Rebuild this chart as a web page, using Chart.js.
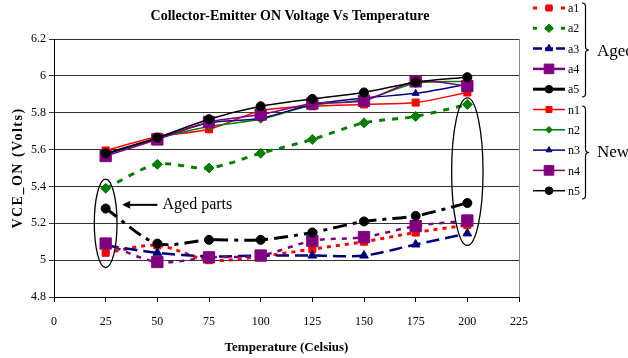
<!DOCTYPE html>
<html><head><meta charset="utf-8">
<script src="https://cdn.jsdelivr.net/npm/chart.js@4/dist/chart.umd.min.js"></script>
<style>html,body{margin:0;padding:0;background:#fff}#wrap{width:628px;height:358px}</style>
</head><body><div id="wrap"><canvas id="c" width="628" height="358"></canvas></div>
<script>
// ---- data ----
const temps = [25, 50, 75, 100, 125, 150, 175, 200];
const xTicks = [0, 25, 50, 75, 100, 125, 150, 175, 200, 225];
const yTicks = [4.8, 5.0, 5.2, 5.4, 5.6, 5.8, 6.0, 6.2];
const seriesNames = ['a1', 'a2', 'a3', 'a4', 'a5', 'n1', 'n2', 'n3', 'n4', 'n5'];
const a1 = [5.04, 5.08, 5.00, 5.02, 5.06, 5.10, 5.15, 5.19];
const a2 = [5.39, 5.52, 5.50, 5.58, 5.655, 5.745, 5.78, 5.845];
const a3 = [5.08, 5.04, 5.02, 5.025, 5.025, 5.025, 5.085, 5.145];
const a4 = [5.09, 4.99, 5.015, 5.025, 5.105, 5.125, 5.185, 5.215];
const a5 = [5.28, 5.09, 5.11, 5.11, 5.15, 5.21, 5.24, 5.31];
const n1 = [5.595, 5.67, 5.71, 5.81, 5.835, 5.845, 5.855, 5.91];
const n2 = [5.575, 5.66, 5.725, 5.765, 5.84, 5.87, 5.96, 5.97];
const n3 = [5.575, 5.66, 5.745, 5.77, 5.845, 5.88, 5.905, 5.955];
const n4 = [5.565, 5.655, 5.75, 5.79, 5.85, 5.865, 5.97, 5.945];
const n5 = [5.58, 5.665, 5.765, 5.835, 5.875, 5.91, 5.965, 5.993];
const groupLabels = ['Aged', 'New'];
const titleText = 'Collector-Emitter ON Voltage Vs Temperature';
const xTitle = 'Temperature (Celsius)';
const yTitle = 'VCE_ON (Volts)';
const calloutText = 'Aged parts';

// ---- styles ----
const values = [a1, a2, a3, a4, a5, n1, n2, n3, n4, n5];
const colors = ['#FF0000', '#008000', '#000080', '#800080', '#000000',
                '#FF0000', '#008000', '#000080', '#800080', '#000000'];
const pStyles = ['rect', 'rectRot', 'triangle', 'rect', 'circle',
                 'rect', 'rectRot', 'triangle', 'rect', 'circle'];
const pRadius = [5, 5, 5, 8, 4.5, 5, 4, 4, 8, 4.5];
const dashes = [[4, 5], [6, 7], [13, 6], [5, 6], [14, 6, 4, 6], [], [], [], [], []];
const legendDashes = [[4, 8], [4, 8], [9, 3], [12, 4], [12, 4], [], [], [], [], []];
const widths = [3, 3, 2.5, 2.5, 3, 1.5, 1.5, 1.5, 1.5, 1.5];
const SERIF = '"Liberation Serif", "Times New Roman", serif';

const datasets = values.map((v, i) => ({
  label: seriesNames[i],
  data: temps.map((t, k) => ({ x: t, y: v[k] })),
  borderColor: colors[i],
  backgroundColor: colors[i],
  pointBackgroundColor: colors[i],
  pointBorderColor: colors[i],
  pointStyle: pStyles[i],
  pointRadius: pRadius[i],
  pointBorderWidth: 1,
  borderWidth: widths[i],
  borderDash: dashes[i],
  tension: 0.3,
  fill: false,
  order: 10 - i
}));

function drawBrace(ctx, x, yTop, yBot, w) {
  const mid = (yTop + yBot) / 2;
  ctx.beginPath();
  ctx.moveTo(x, yTop);
  ctx.quadraticCurveTo(x + w, yTop, x + w, yTop + w);
  ctx.lineTo(x + w, mid - w);
  ctx.quadraticCurveTo(x + w, mid, x + 2 * w, mid);
  ctx.quadraticCurveTo(x + w, mid, x + w, mid + w);
  ctx.lineTo(x + w, yBot - w);
  ctx.quadraticCurveTo(x + w, yBot, x, yBot);
  ctx.stroke();
}

const decor = {
  id: 'decor',
  afterDatasetsDraw(chart) {
    const ctx = chart.ctx, xs = chart.scales.x, ys = chart.scales.y, ca = chart.chartArea;
    ctx.save();
    // right border
    ctx.strokeStyle = '#888'; ctx.lineWidth = 1;
    ctx.beginPath(); ctx.moveTo(ca.right + 0.5, ca.top); ctx.lineTo(ca.right + 0.5, ca.bottom); ctx.stroke();

    // ellipses around aged parts
    const ells = [{ cx: 25, cy: 5.2, rx: 5.5, ry: 0.24 }, { cx: 200, cy: 5.48, rx: 7.6, ry: 0.40 }];
    ctx.strokeStyle = '#000'; ctx.lineWidth = 1.3;
    ells.forEach(e => {
      const px = xs.getPixelForValue(e.cx), py = ys.getPixelForValue(e.cy);
      const rx = Math.abs(xs.getPixelForValue(e.cx + e.rx) - px);
      const ry = Math.abs(ys.getPixelForValue(e.cy + e.ry) - py);
      ctx.beginPath(); ctx.ellipse(px, py, rx, ry, 0, 0, Math.PI * 2); ctx.stroke();
    });

    // callout arrow + text
    const ay = ys.getPixelForValue(5.3);
    const tip = xs.getPixelForValue(33), tail = xs.getPixelForValue(50);
    ctx.lineWidth = 2;
    ctx.beginPath(); ctx.moveTo(tail, ay); ctx.lineTo(tip + 6, ay); ctx.stroke();
    ctx.fillStyle = '#000';
    ctx.beginPath(); ctx.moveTo(tip, ay); ctx.lineTo(tip + 8, ay - 4); ctx.lineTo(tip + 8, ay + 4); ctx.closePath(); ctx.fill();
    ctx.font = '16px ' + SERIF; ctx.textAlign = 'left'; ctx.textBaseline = 'middle';
    ctx.fillText(calloutText, xs.getPixelForValue(52.5), ay);

    // title & axis titles
    ctx.font = 'bold 14px ' + SERIF; ctx.textAlign = 'center';
    ctx.fillText(titleText, 290, 16);
    ctx.font = 'bold 13px ' + SERIF;
    ctx.fillText(xTitle, (xs.left + xs.right) / 2, 348);
    ctx.save();
    ctx.translate(18, 168); ctx.rotate(-Math.PI / 2);
    ctx.font = 'bold 14px ' + SERIF;
    try { ctx.letterSpacing = '1.5px'; } catch (e) {}
    ctx.fillText(yTitle, 0, 0);
    ctx.restore();

    // legend
    const lx0 = 533, lx1 = 565, lm = 549;
    chart.data.datasets.forEach((ds, i) => {
      const y = 8 + i * 20.3;
      ctx.strokeStyle = ds.borderColor; ctx.lineWidth = ds.borderWidth;
      ctx.setLineDash(legendDashes[i]);
      ctx.beginPath(); ctx.moveTo(lx0, y); ctx.lineTo(lm, y); ctx.stroke();
      ctx.beginPath(); ctx.moveTo(lx1, y); ctx.lineTo(lm, y); ctx.stroke();
      ctx.setLineDash([]);
      ctx.fillStyle = ds.pointBackgroundColor; ctx.strokeStyle = ds.pointBorderColor; ctx.lineWidth = 1;
      Chart.helpers.drawPoint(ctx, { pointStyle: ds.pointStyle, radius: ds.pointRadius * 0.85, rotation: 0, borderWidth: 1 }, lm, y);
      ctx.fillStyle = '#000'; ctx.font = '12px ' + SERIF; ctx.textAlign = 'left'; ctx.textBaseline = 'middle';
      ctx.fillText(ds.label, 568, y + 1);
    });
    // braces
    ctx.strokeStyle = '#000'; ctx.lineWidth = 1.2;
    drawBrace(ctx, 582, 3, 97, 3.5);
    drawBrace(ctx, 582, 106, 199, 3.5);
    ctx.fillStyle = '#000'; ctx.font = '17px ' + SERIF; ctx.textAlign = 'left'; ctx.textBaseline = 'middle';
    ctx.fillText(groupLabels[0], 597, 52);
    ctx.fillText(groupLabels[1], 597, 153);
    ctx.restore();
  }
};

new Chart(document.getElementById('c'), {
  type: 'line',
  data: { datasets },
  options: {
    responsive: false, animation: false, devicePixelRatio: 1,
    layout: { padding: { top: 39, right: 109, left: 0, bottom: 0 } },
    plugins: { legend: { display: false }, title: { display: false }, tooltip: { enabled: false } },
    scales: {
      x: {
        type: 'linear', min: 0, max: 225,
        afterBuildTicks: s => { s.ticks = xTicks.map(v => ({ value: v })); },
        afterFit: s => { s.height = 61; },
        grid: { drawOnChartArea: false, drawTicks: true, tickLength: 5, color: '#000' },
        border: { color: '#000', width: 1 },
        ticks: { color: '#000', font: { family: SERIF, size: 12 }, padding: 13, maxRotation: 0,
                 callback: v => String(v) }
      },
      y: {
        type: 'linear', min: 4.8, max: 6.2,
        afterBuildTicks: s => { s.ticks = yTicks.map(v => ({ value: v })); },
        afterFit: s => { s.width = 54; },
        grid: { drawOnChartArea: true, drawTicks: true, tickLength: 5, color: '#333' },
        border: { color: '#000', width: 1 },
        ticks: { color: '#000', font: { family: SERIF, size: 12 }, padding: 3,
                 callback: v => String(Math.round(v * 10) / 10) }
      }
    }
  },
  plugins: [decor]
});
</script>
</body></html>
